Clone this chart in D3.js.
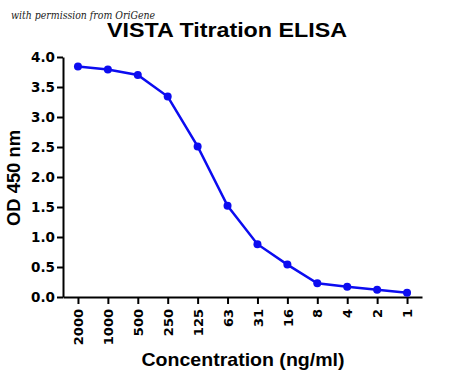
<!DOCTYPE html>
<html><head><meta charset="utf-8">
<script src="https://cdn.jsdelivr.net/npm/d3@7"></script>
<style>body{margin:0;background:#fff}svg{display:block}</style>
</head><body>
<script>
const categories = ["2000","1000","500","250","125","63","31","16","8","4","2","1"];
const odValues = [3.84, 3.79, 3.70, 3.34, 2.51, 1.52, 0.88, 0.54, 0.23, 0.17, 0.12, 0.07];
const yTicks = [0, 0.5, 1.0, 1.5, 2.0, 2.5, 3.0, 3.5, 4.0];
const titleText = "VISTA Titration ELISA";
const xTitle = "Concentration (ng/ml)";
const yTitle = "OD 450 nm";
const note = "with permission from OriGene";

const W = 450, H = 377;
const svg = d3.select("body").append("svg").attr("width", W).attr("height", H);
const font = "'DejaVu Sans', sans-serif";
const afont = "'Liberation Sans', Arial, sans-serif";
const blue = "#0c0cf0";

const x = d3.scalePoint().domain(categories).range([63, 422]).padding(0.5);
const y = d3.scaleLinear().domain([0, 4]).range([297, 57]);

// note
svg.append("text").attr("x", 11).attr("y", 19)
  .attr("font-family", "'DejaVu Serif', serif").attr("font-style", "italic")
  .attr("font-size", 10.5).attr("fill", "#222")
  .attr("textLength", 144).attr("lengthAdjust", "spacingAndGlyphs").text(note);

// title
svg.append("text").attr("x", 227).attr("y", 37).attr("text-anchor", "middle")
  .attr("font-family", afont).attr("font-weight", "bold").attr("font-size", 19.5)
  .attr("textLength", 240).attr("lengthAdjust", "spacingAndGlyphs")
  .attr("fill", "#000").text(titleText);

// y axis
const yAxis = svg.append("g").attr("transform", "translate(63,0)")
  .call(d3.axisLeft(y).tickValues(yTicks).tickFormat(d3.format(".1f")).tickSize(6).tickSizeOuter(0).tickPadding(2));
yAxis.select(".domain").attr("stroke", "#000").attr("stroke-width", 2);
yAxis.selectAll(".tick line").attr("stroke", "#000").attr("stroke-width", 2);
yAxis.selectAll(".tick text").attr("font-family", font).attr("font-weight", "bold")
  .attr("font-size", 13.5).attr("fill", "#000");

// x axis
const xAxis = svg.append("g").attr("transform", "translate(0,297)")
  .call(d3.axisBottom(x).tickSize(7).tickSizeOuter(0));
xAxis.select(".domain").attr("stroke", "#000").attr("stroke-width", 2);
xAxis.selectAll(".tick line").attr("stroke", "#000").attr("stroke-width", 2);
xAxis.selectAll(".tick text")
  .attr("font-family", font).attr("font-weight", "bold").attr("font-size", 13)
  .attr("fill", "#000")
  .attr("transform", "rotate(-90)")
  .attr("text-anchor", "end").attr("x", -12).attr("y", 0).attr("dy", "0.36em");

// axis titles
svg.append("text").attr("x", 243).attr("y", 366).attr("text-anchor", "middle")
  .attr("font-family", afont).attr("font-weight", "bold").attr("font-size", 18.5)
  .attr("textLength", 203).attr("lengthAdjust", "spacingAndGlyphs")
  .attr("fill", "#000").text(xTitle);
svg.append("text").attr("transform", "translate(20,178) rotate(-90)").attr("text-anchor", "middle")
  .attr("font-family", afont).attr("font-weight", "bold").attr("font-size", 18)
  .attr("textLength", 96).attr("lengthAdjust", "spacingAndGlyphs")
  .attr("fill", "#000").text(yTitle);

// line + points
const data = categories.map((c, i) => ({c, v: odValues[i]}));
svg.append("path").datum(data)
  .attr("fill", "none").attr("stroke", blue).attr("stroke-width", 2.5)
  .attr("d", d3.line().x(d => x(d.c)).y(d => y(d.v)));
svg.selectAll("circle.pt").data(data).enter().append("circle").attr("class", "pt")
  .attr("cx", d => x(d.c)).attr("cy", d => y(d.v)).attr("r", 4)
  .attr("fill", blue);
</script>
</body></html>
